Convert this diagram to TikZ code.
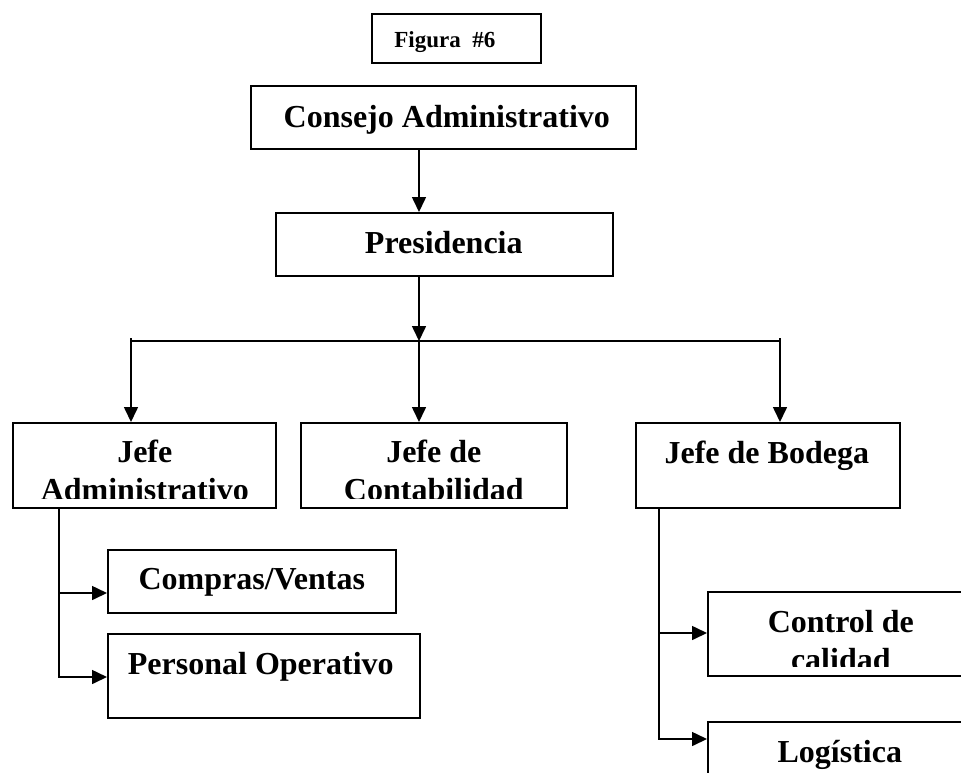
\documentclass[tikz,border=0pt]{standalone}
\usepackage{fontspec}
\setmainfont{Liberation Serif}
\usetikzlibrary{arrows.meta,calc}
\begin{document}
\begin{tikzpicture}[x=1pt,y=-1pt,
  box/.style={draw, line width=1.6pt, inner sep=0pt, anchor=north west},
  lbl/.style={font=\bfseries\fontsize{32}{38}\selectfont, inner sep=0pt, anchor=base, align=center},
  small/.style={font=\bfseries\fontsize{23}{27}\selectfont, inner sep=0pt, anchor=base},
  conn/.style={line width=1.6pt},
  arr/.style={conn, -{Triangle[length=15pt,width=14pt]}}]
\useasboundingbox (0,0) rectangle (961,772);
\clip (0,0) rectangle (961,772);
% boxes
\node[box, minimum width=169pt, minimum height=49pt] (fig) at (371,13) {};
\node[box, minimum width=385pt, minimum height=63pt] (cons) at (250,85) {};
\node[box, minimum width=337pt, minimum height=63pt] (pres) at (275,212) {};
\node[box, minimum width=263pt, minimum height=85pt] (ja) at (12,422) {};
\node[box, minimum width=266pt, minimum height=85pt] (jc) at (300,422) {};
\node[box, minimum width=264pt, minimum height=85pt] (jb) at (635,422) {};
\node[box, minimum width=288pt, minimum height=63pt] (cv) at (107,549) {};
\node[box, minimum width=312pt, minimum height=84pt] (po) at (107,633) {};
\node[box, minimum width=266pt, minimum height=84pt] (cc) at (707,591) {};
\node[box, minimum width=266pt, minimum height=84pt] (lg) at (707,721) {};
% labels
\node[small] (figt) at ($(fig.north)+(-11.5,34)$) {Figura\ \ \#6};
\node[lbl] (const) at ($(cons.north)+(3.5,42)$) {Consejo Administrativo};
\node[lbl] (prest) at ($(pres.north)+(-0.5,41)$) {Presidencia};
\begin{scope}
  \clip (ja.north west) rectangle ($(ja.south east)+(0,-10)$);
  \node[lbl] (jat) at ($(ja.north)+(0.5,78)$) {Jefe\\Administrativo};
\end{scope}
\begin{scope}
  \clip (jc.north west) rectangle ($(jc.south east)+(0,-10)$);
  \node[lbl] (jct) at ($(jc.north)+(0,78)$) {Jefe de\\Contabilidad};
\end{scope}
\node[lbl] (jbt) at ($(jb.north)+(-1,41)$) {Jefe de Bodega};
\node[lbl] (cvt) at ($(cv.north)+(0,40)$) {Compras/Ventas};
\node[lbl] (pot) at ($(po.north)+(-3,41)$) {Personal Operativo};
\begin{scope}
  \clip (cc.north west) rectangle ($(cc.south east)+(0,-10)$);
  \node[lbl] (cct) at ($(cc.north)+(0,79)$) {Control de\\calidad};
\end{scope}
\node[lbl] (lgt) at ($(lg.north)+(-1,41)$) {Logística};
% connectors
\coordinate (trunk) at (419,341);
\coordinate (barL) at (131,338);
\coordinate (barR) at (780,338);
\draw[arr] (cons.south -| trunk) -- (pres.north -| trunk);
\draw[arr] (pres.south -| trunk) -- (trunk);
\draw[conn] (barL |- trunk) -- (barR |- trunk);
\draw[arr] (barL) -- (barL |- ja.north);
\draw[arr] (trunk) -- (trunk |- jc.north);
\draw[arr] (barR) -- (barR |- jb.north);
\coordinate (l1) at (59,593);
\coordinate (l2) at (59,677);
\draw[arr] (ja.south -| l1) -- (l2) -- (l2 -| po.west);
\draw[arr] (l1) -- (l1 -| cv.west);
\coordinate (r1) at (659,633);
\coordinate (r2) at (659,739);
\draw[arr] (jb.south -| r1) -- (r2) -- (r2 -| lg.west);
\draw[arr] (r1) -- (r1 -| cc.west);
\end{tikzpicture}
\end{document}
